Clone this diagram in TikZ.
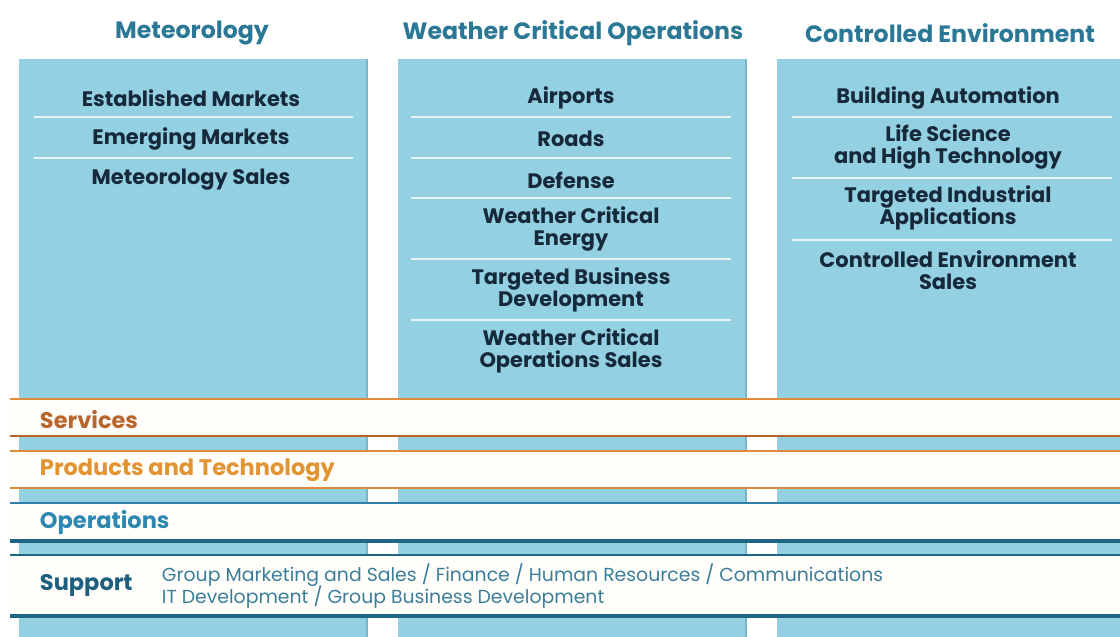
\documentclass[tikz,border=0pt]{standalone}
\usepackage{fontspec}
\setmainfont{Poppins}
\usetikzlibrary{calc}
\newcommand\tightlines{\setlength{\lineskiplimit}{-20pt}}
\definecolor{colfill}{HTML}{93D0E2}
\definecolor{coledge}{HTML}{74B6CC}
\definecolor{sepline}{HTML}{E6F5FA}
\definecolor{headblue}{HTML}{2A7895}
\definecolor{itemdark}{HTML}{16293A}
\definecolor{servorange}{HTML}{B8652E}
\definecolor{prodorange}{HTML}{E29433}
\definecolor{opsblue}{HTML}{2C88B0}
\definecolor{suppblue}{HTML}{1D5F7E}
\definecolor{detblue}{HTML}{3B7E9A}
\definecolor{bandfill}{HTML}{FFFEFB}
\definecolor{orangeline}{HTML}{E08B3C}
\definecolor{brownline}{HTML}{B5622A}
\definecolor{blueline}{HTML}{2F80A8}
\definecolor{darkblueline}{HTML}{1F6685}
\tikzset{
  headtext/.style={font=\fontsize{16.8}{18}\selectfont\bfseries, text=headblue},
  itemtext/.style={font=\fontsize{14.9}{15.6}\selectfont\bfseries\tightlines, text=itemdark, align=center},
  bandtext/.style={font=\fontsize{16}{18}\selectfont\bfseries, anchor=west},
  dettext/.style={font=\fontsize{13.4}{15.6}\selectfont\tightlines, text=detblue, align=left, anchor=west},
  sep/.style={draw=sepline, line width=1.4pt}
}

\begin{document}
\begin{tikzpicture}[x=0.025cm, y=-0.025cm]
			%%%%% START %%%%%
			\useasboundingbox[fill=white] (0, 0) rectangle (1120, 637);
			
			% three columns
			\fill[colfill] (19, 59) rectangle (367, 637);
			\fill[colfill] (398, 59) rectangle (746, 637);
			\fill[colfill] (777, 59) rectangle (1120, 637);
			\draw[coledge, line width=0.8pt] (367, 59) -- (367, 637);
			\draw[coledge, line width=0.8pt] (746, 59) -- (746, 637);
			
			\node[headtext] (met) at (192, 33) {Meteorology};
			\node[headtext] (wco) at (573, 33) {Weather Critical Operations};
			\node[headtext] (ce) at (950, 33) {Controlled Environment};
			
			% Meteorology
			\node[itemtext] (met1) at (191, 98) {Established Markets};
			\draw[sep] (34, 117) -- (353, 117);
			\node[itemtext] (met2) at (191, 139) {Emerging Markets};
			\draw[sep] (34, 158) -- (353, 158);
			\node[itemtext] (met3) at (191, 180) {Meteorology Sales};
			
			% Weather Critical Operations
			\node[itemtext] (wco1) at (571, 98) {Airports};
			\draw[sep] (411, 117) -- (731, 117);
			\node[itemtext] (wco2) at (571, 139) {Roads};
			\draw[sep] (411, 158) -- (731, 158);
			\node[itemtext] (wco3) at (571, 180) {Defense};
			\draw[sep] (411, 198) -- (731, 198);
			\node[itemtext] (wco4) at (571, 229) {Weather Critical\\Energy};
			\draw[sep] (411, 259) -- (731, 259);
			\node[itemtext] (wco5) at (571, 290) {Targeted Business\\Development};
			\draw[sep] (411, 320) -- (731, 320);
			\node[itemtext] (wco6) at (571, 351) {Weather Critical\\Operations Sales};
			
			% Controlled Environment
			\node[itemtext] (ce1) at (948, 98) {Building Automation};
			\draw[sep] (792, 117) -- (1112, 117);
			\node[itemtext] (ce2) at (948, 147) {Life Science\\and High Technology};
			\draw[sep] (792, 178) -- (1112, 178);
			\node[itemtext] (ce3) at (948, 208) {Targeted Industrial\\Applications};
			\draw[sep] (792, 240) -- (1112, 240);
			\node[itemtext] (ce4) at (948, 270) {Controlled Environment\\Sales};
			
			% horizontal bands
			\fill[bandfill] (10, 399) rectangle (1120, 436);
			\draw[orangeline, line width=1pt] (10, 399) -- (1120, 399);
			\draw[brownline, line width=2pt] (10, 436) -- (1120, 436);
			\node[bandtext, text=servorange] (serv) at (35, 420) {Services};
			
			\fill[bandfill] (10, 451) rectangle (1120, 488);
			\draw[orangeline, line width=1pt] (10, 451) -- (1120, 451);
			\draw[orangeline, line width=2pt] (10, 488) -- (1120, 488);
			\node[bandtext, text=prodorange] (prod) at (35, 470) {Products and Technology};
			
			\fill[bandfill] (10, 503) rectangle (1120, 541);
			\draw[blueline, line width=1pt] (10, 503) -- (1120, 503);
			\draw[darkblueline, line width=2.2pt] (10, 541) -- (1120, 541);
			\node[bandtext, text=opsblue] (ops) at (35, 522) {Operations};
			
			\fill[bandfill] (10, 555) rectangle (1120, 616);
			\draw[darkblueline, line width=1pt] (10, 555) -- (1120, 555);
			\draw[darkblueline, line width=2.2pt] (10, 616) -- (1120, 616);
			\node[bandtext, text=suppblue] (supp) at (35, 585) {Support};
			\node[dettext] (suppdet) at (157, 586) {Group Marketing and Sales / Finance / Human Resources / Communications\\IT Development / Group Business Development};
			%%%%% END %%%%%
\end{tikzpicture}
\end{document}
